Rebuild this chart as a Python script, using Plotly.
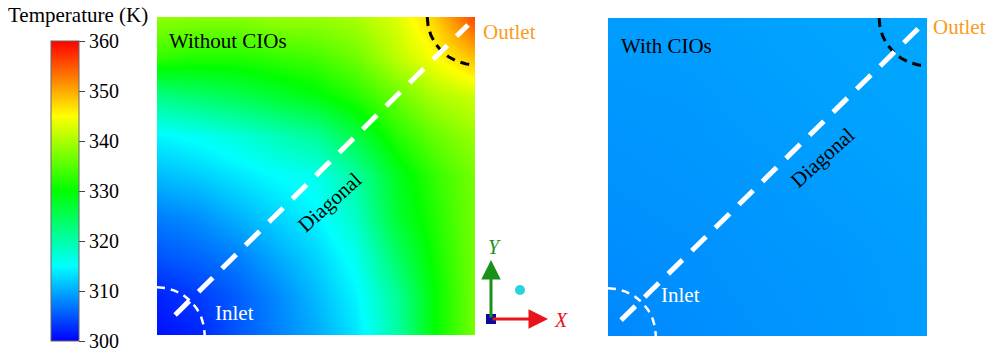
import numpy as np
import plotly.graph_objects as go

W, H = 991, 353
SERIF = "Liberation Serif"

# ---------------------------------------------------------------------------
# Temperature field samples (K). Rows run bottom -> top, columns left -> right.
# ---------------------------------------------------------------------------
grid_pos_fine = [0.0, 0.125, 0.25, 0.375, 0.5, 0.625, 0.75, 0.875, 1.0]
temp_without_cios = [
    [301.0, 302.0, 305.0, 307.5, 310.0, 313.5, 320, 330, 337],
    [302.0, 303.5, 305.5, 308.0, 311.0, 314.5, 321, 330, 337],
    [305.0, 306.0, 307.5, 310.0, 312.5, 316.0, 324, 331, 337],
    [307.5, 308.5, 310.5, 312.5, 314.5, 318.5, 327, 332, 337],
    [311.0, 312.0, 313.5, 315.0, 316.0, 320.5, 328, 333, 337],
    [314.5, 315.5, 317.0, 319.0, 321.0, 326.0, 332, 336, 339],
    [322.0, 323.5, 325.0, 327.0, 329.0, 332.0, 336, 340, 342],
    [333.0, 332.0, 332.0, 333.0, 334.0, 336.5, 341, 345, 349],
    [338.5, 338.0, 338.0, 339.0, 339.0, 340.0, 343, 348, 356],
]

grid_pos_coarse = [0.0, 0.25, 0.5, 0.75, 1.0]
temp_with_cios = [
    [308.0, 308.3, 308.6, 308.9, 309.2],
    [308.3, 308.5, 308.8, 309.0, 309.3],
    [308.6, 308.8, 309.0, 309.3, 309.5],
    [308.9, 309.0, 309.3, 309.5, 309.7],
    [309.2, 309.3, 309.5, 309.7, 309.8],
]

colorbar_ticks = [300, 310, 320, 330, 340, 350, 360]
temp_min, temp_max = 300, 360

jet_scale = [
    [0.00, "#0000ff"],
    [0.25, "#00ffff"],
    [0.50, "#00ff00"],
    [0.75, "#ffff00"],
    [1.00, "#ff0000"],
]

# Geometry of the overlays (axis units of each square panel)
PORT_RADIUS = 0.15
diag_left = ((0.057, 0.063), (0.978, 0.975))
diag_right = ((0.041, 0.050), (0.975, 0.969))

OUTLET_COLOR = "#FA9B1E"


def px_x(p):
    return p / W


def px_y(p):
    return 1 - p / H


fig = go.Figure()

fig.add_trace(go.Heatmap(
    x=grid_pos_fine, y=grid_pos_fine, z=temp_without_cios,
    coloraxis="coloraxis", zsmooth="best", xaxis="x", yaxis="y",
    hoverinfo="skip",
))
fig.add_trace(go.Heatmap(
    x=grid_pos_coarse, y=grid_pos_coarse, z=temp_with_cios,
    coloraxis="coloraxis", zsmooth="best", xaxis="x2", yaxis="y2",
    hoverinfo="skip",
))

theta = np.linspace(np.pi / 2, 0, 80)


def add_overlays(xa, ya, diag):
    (x0, y0), (x1, y1) = diag
    # inlet boundary (quarter circle at the lower-left corner)
    fig.add_trace(go.Scatter(
        x=PORT_RADIUS * np.cos(theta), y=PORT_RADIUS * np.sin(theta),
        mode="lines", xaxis=xa, yaxis=ya, hoverinfo="skip",
        line=dict(color="white", width=2.5, dash="8px,6px"),
    ))
    # outlet boundary (quarter circle at the upper-right corner)
    fig.add_trace(go.Scatter(
        x=1 - PORT_RADIUS * np.sin(theta), y=1 - PORT_RADIUS * np.cos(theta),
        mode="lines", xaxis=xa, yaxis=ya, hoverinfo="skip",
        line=dict(color="black", width=3, dash="9px,6px"),
    ))
    # sampling diagonal
    fig.add_trace(go.Scatter(
        x=[x0, x1], y=[y0, y1], mode="lines", xaxis=xa, yaxis=ya,
        hoverinfo="skip", line=dict(color="white", width=5, dash="20px,13px"),
    ))


add_overlays("x", "y", diag_left)
add_overlays("x2", "y2", diag_right)

annotations = []


def label(text, x, y, xref, yref, color="black", size=21, angle=0,
          xanchor="left", italic=False):
    annotations.append(dict(
        text=f"<i>{text}</i>" if italic else text,
        x=x, y=y, xref=xref, yref=yref, showarrow=False,
        xanchor=xanchor, yanchor="middle", textangle=angle,
        font=dict(family=SERIF, size=size, color=color),
    ))


# panel labels
label("Without CIOs", 0.030, 0.925, "x", "y")
label("With CIOs", 0.036, 0.912, "x2", "y2")
label("Outlet", px_x(481), px_y(32), "paper", "paper", color=OUTLET_COLOR)
label("Outlet", px_x(931), px_y(27), "paper", "paper", color=OUTLET_COLOR)
label("Inlet", 0.176, 0.068, "x", "y", color="white")
label("Inlet", 0.161, 0.128, "x2", "y2", color="white")
label("Diagonal", 0.544, 0.418, "x", "y", angle=-42, xanchor="center")
label("Diagonal", 0.671, 0.560, "x2", "y2", angle=-42, xanchor="center")

# colour bar title
label("Temperature (K)", px_x(78), px_y(15), "paper", "paper",
      xanchor="center")

# coordinate triad
ox, oy = 491, 319
annotations.append(dict(
    x=px_x(ox), y=px_y(260), xref="paper", yref="paper",
    ax=0, ay=oy - 260, axref="pixel", ayref="pixel",
    showarrow=True, arrowhead=2, arrowsize=1.3, arrowwidth=3,
    arrowcolor="#1a8f1a", text="",
))
annotations.append(dict(
    x=px_x(548), y=px_y(oy), xref="paper", yref="paper",
    ax=-(548 - ox), ay=0, axref="pixel", ayref="pixel",
    showarrow=True, arrowhead=2, arrowsize=1.3, arrowwidth=3,
    arrowcolor="#e8131b", text="",
))
label("Y", px_x(494), px_y(247), "paper", "paper", color="#1a8f1a",
      size=20, xanchor="center", italic=True)
label("X", px_x(561), px_y(320), "paper", "paper", color="#e8131b",
      size=20, xanchor="center", italic=True)

shapes = [
    dict(type="rect", xref="paper", yref="paper",
         x0=px_x(ox - 5), x1=px_x(ox + 5), y0=px_y(oy + 5), y1=px_y(oy - 5),
         fillcolor="#0a0aa0", line=dict(width=0)),
    dict(type="circle", xref="paper", yref="paper",
         x0=px_x(515), x1=px_x(525), y0=px_y(295), y1=px_y(285),
         fillcolor="#26d4dc", line=dict(width=0)),
]

hidden = dict(visible=False, range=[0, 1], fixedrange=True)

fig.update_layout(
    width=W, height=H,
    margin=dict(l=0, r=0, t=0, b=0),
    paper_bgcolor="white", plot_bgcolor="white",
    showlegend=False,
    xaxis=dict(domain=[157 / W, 475 / W], anchor="y", **hidden),
    yaxis=dict(domain=[1 - 335 / H, 1 - 17 / H], anchor="x", **hidden),
    xaxis2=dict(domain=[608 / W, 927 / W], anchor="y2", **hidden),
    yaxis2=dict(domain=[1 - 336 / H, 1 - 18 / H], anchor="x2", **hidden),
    coloraxis=dict(
        cmin=temp_min, cmax=temp_max, colorscale=jet_scale,
        colorbar=dict(
            x=51 / W, xanchor="left", y=1 - 341 / H, yanchor="bottom",
            len=300 / H, lenmode="fraction",
            thickness=28, thicknessmode="pixels",
            xpad=0, ypad=0,
            outlinewidth=1, outlinecolor="#666666",
            ticks="outside", ticklen=6, tickwidth=1, tickcolor="#444444",
            tickvals=colorbar_ticks,
            ticktext=[str(t) for t in colorbar_ticks],
            tickfont=dict(family=SERIF, size=20, color="black"),
        ),
    ),
    annotations=annotations,
    shapes=shapes,
)

fig.write_html("out.html")
